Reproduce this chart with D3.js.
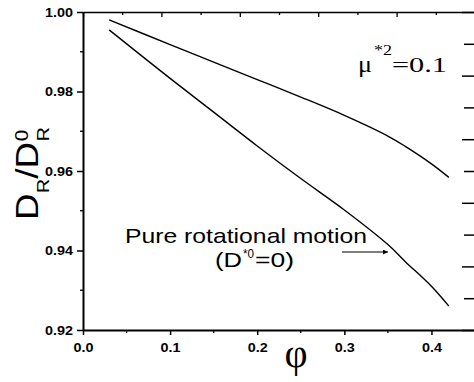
<!DOCTYPE html>
<html>
<head>
<meta charset="utf-8">
<script src="https://cdnjs.cloudflare.com/ajax/libs/d3/7.8.5/d3.min.js"></script>
<style>
  body { margin: 0; background: #fff; }
  svg { display: block; }
  .tick text { font-family: 'Liberation Sans', Arial, sans-serif; font-weight: bold; font-size: 12.5px; fill: #000; }
</style>
</head>
<body>
<svg id="chart" width="474" height="382"></svg>
<script>
// volume fraction phi
const phi = [0.03, 0.10, 0.15, 0.20, 0.25, 0.30, 0.35, 0.37, 0.40, 0.42];
// D_R / D_R^0, mu*^2 = 0.1
const dipolar = [0.9980, 0.9918, 0.9874, 0.9830, 0.9786, 0.9740, 0.9688, 0.9662, 0.9618, 0.9584];
// pure rotational motion (D*0 = 0)
const pureRot = [0.9955, 0.9833, 0.9748, 0.9663, 0.9581, 0.9502, 0.9415, 0.9372, 0.9310, 0.9260];

const xTicks = [0.0, 0.1, 0.2, 0.3, 0.4];
const xMinor = [0.05, 0.15, 0.25, 0.35, 0.45];
const yTicks = [0.92, 0.94, 0.96, 0.98, 1.00];
const yMinor = [0.93, 0.95, 0.97, 0.99];

const svg = d3.select('#chart');
const plotL = 83, plotR = 475, plotT = 12, plotB = 330;

const x = d3.scaleLinear().domain([0, 0.45]).range([plotL, plotR]);
const y = d3.scaleLinear().domain([0.92, 1.00]).range([plotB, plotT]);
// mirror frame axes (top / right) just carry 10 divisions each
const xTop = d3.scaleLinear().domain([0, 10]).range([plotL, plotR]);
const yRight = d3.scaleLinear().domain([0, 10]).range([plotB, plotT]);
const frame = d3.range(0, 11);

// top frame
svg.append('g')
  .attr('transform', `translate(0, ${plotT})`)
  .call(d3.axisTop(xTop).tickValues(frame).tickSize(-5).tickSizeOuter(0).tickFormat(''))
  .call(g => g.selectAll('.tick line').attr('y2', d => d % 2 ? 3 : 5).attr('stroke-width', 1.3))
  .call(g => g.select('.domain').attr('stroke-width', 1.5));

// right frame (line sits just past the window edge)
svg.append('g')
  .attr('transform', `translate(${plotR + 1}, 0)`)
  .call(d3.axisRight(yRight).tickValues(frame).tickSize(-14).tickSizeOuter(0).tickFormat(''))
  .call(g => g.selectAll('.tick line').attr('x2', d => d % 2 ? -12 : -14).attr('stroke-width', 1.5));

// bottom axis
const xAxis = svg.append('g')
  .attr('transform', `translate(0, ${plotB})`)
  .call(d3.axisBottom(x).tickValues(xTicks).tickSize(5).tickSizeOuter(0).tickFormat(d3.format('.1f')));
xAxis.select('.domain').attr('stroke-width', 2);
xAxis.selectAll('.tick line').attr('stroke-width', 1.5);
xAxis.selectAll('.tick text')
  .attr('y', 22).attr('dy', 0)
  .attr('transform', 'scale(1.15,1)');
xAxis.selectAll('.minor')
  .data(xMinor)
  .enter()
  .append('line')
  .attr('class', 'minor')
  .attr('x1', d => x(d)).attr('x2', d => x(d))
  .attr('y1', 0).attr('y2', 3)
  .attr('stroke', '#000').attr('stroke-width', 1.3);

// left axis
const yAxis = svg.append('g')
  .attr('transform', `translate(${plotL}, 0)`)
  .call(d3.axisLeft(y).tickValues(yTicks).tickSize(6).tickSizeOuter(0).tickFormat(d3.format('.2f')));
yAxis.select('.domain').attr('stroke-width', 2);
yAxis.selectAll('.tick line').attr('stroke-width', 1.5);
yAxis.selectAll('.tick text')
  .attr('x', -8.7)
  .attr('transform', 'scale(1.15,1)');
yAxis.selectAll('.minor')
  .data(yMinor)
  .enter()
  .append('line')
  .attr('class', 'minor')
  .attr('x1', 0).attr('x2', -3)
  .attr('y1', d => y(d)).attr('y2', d => y(d))
  .attr('stroke', '#000').attr('stroke-width', 1.3);

// curves
const line = d3.line()
  .x((d, i) => x(phi[i]))
  .y(d => y(d))
  .curve(d3.curveCatmullRom.alpha(0.5));

[dipolar, pureRot].forEach(s => {
  svg.append('path')
    .datum(s)
    .attr('d', line)
    .attr('fill', 'none')
    .attr('stroke', '#000')
    .attr('stroke-width', 1.4);
});

// y title  D_R / D^0_R
const yt = svg.append('g')
  .attr('transform', 'translate(38, 220) rotate(-90) scale(1.15, 1)')
  .attr('font-family', "'Liberation Sans', Arial, sans-serif")
  .attr('fill', '#000');
yt.append('text').attr('x', 0).attr('y', 0).attr('font-size', 32).text('D');
yt.append('text').attr('x', 23.5).attr('y', 11).attr('font-size', 17).text('R');
yt.append('text').attr('x', 35.8).attr('y', 0).attr('font-size', 32).text('/');
yt.append('text').attr('x', 44.7).attr('y', 0).attr('font-size', 32).text('D');
yt.append('text').attr('x', 68.5).attr('y', -10).attr('font-size', 18).text('0');
yt.append('text').attr('x', 68.5).attr('y', 11).attr('font-size', 17).text('R');

// x title
svg.append('text')
  .attr('x', 296).attr('y', 367)
  .attr('text-anchor', 'middle')
  .attr('font-family', "'Liberation Serif', 'Times New Roman', serif")
  .attr('font-size', 40)
  .text('φ');

// mu label
const mu = svg.append('g')
  .attr('font-family', "'Liberation Serif', 'Times New Roman', serif")
  .attr('fill', '#000');
mu.append('text').attr('x', 358).attr('y', 72).attr('font-size', 23)
  .attr('textLength', 14).attr('lengthAdjust', 'spacingAndGlyphs').text('μ');
mu.append('text').attr('x', 374).attr('y', 55).attr('font-size', 15)
  .attr('textLength', 18).attr('lengthAdjust', 'spacingAndGlyphs').text('*2');
mu.append('text').attr('x', 392).attr('y', 72).attr('font-size', 22)
  .attr('textLength', 55).attr('lengthAdjust', 'spacingAndGlyphs').text('=0.1');

// annotation
const ann = svg.append('g')
  .attr('font-family', "'Liberation Sans', Arial, sans-serif")
  .attr('fill', '#000');
ann.append('text').attr('x', 125).attr('y', 243).attr('font-size', 21)
  .attr('textLength', 242).attr('lengthAdjust', 'spacingAndGlyphs')
  .text('Pure rotational motion');
ann.append('text').attr('x', 215).attr('y', 267).attr('font-size', 21)
  .attr('textLength', 27).attr('lengthAdjust', 'spacingAndGlyphs').text('(D');
ann.append('text').attr('x', 243).attr('y', 258).attr('font-size', 12)
  .attr('textLength', 11).attr('lengthAdjust', 'spacingAndGlyphs').text('*0');
ann.append('text').attr('x', 255).attr('y', 267).attr('font-size', 21)
  .attr('textLength', 39).attr('lengthAdjust', 'spacingAndGlyphs').text('=0)');

// arrow
svg.append('defs').append('marker')
  .attr('id', 'head')
  .attr('viewBox', '0 0 10 10')
  .attr('refX', 10).attr('refY', 5)
  .attr('markerWidth', 7).attr('markerHeight', 5)
  .attr('markerUnits', 'userSpaceOnUse')
  .attr('orient', 'auto')
  .append('path')
  .attr('d', 'M0,0L10,5L0,10Z')
  .attr('fill', '#000');
svg.append('line')
  .attr('x1', 342).attr('y1', 252)
  .attr('x2', 388).attr('y2', 252)
  .attr('stroke', '#000').attr('stroke-width', 1.2)
  .attr('marker-end', 'url(#head)');
</script>
</body>
</html>
